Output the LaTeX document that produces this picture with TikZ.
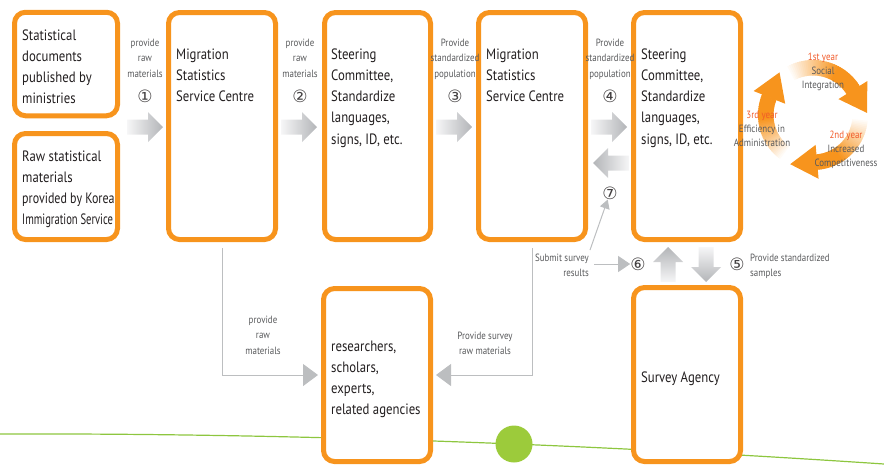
\documentclass[tikz,border=0pt]{standalone}
\usepackage{fontspec}
\setmainfont{PT Sans}[FakeStretch=0.85]
\newfontfamily\circfont{DejaVu Sans}
\usetikzlibrary{arrows.meta,calc}
\definecolor{org}{HTML}{F7941D}
\definecolor{garr}{HTML}{B3B5B8}
\definecolor{glight}{HTML}{F6F6F7}
\definecolor{txt}{HTML}{231F20}
\definecolor{stxt}{HTML}{58595B}
\definecolor{lgray}{HTML}{BCBEC0}
\definecolor{grn}{HTML}{8DC63F}
\definecolor{grn2}{HTML}{9CCB3B}
\definecolor{redt}{HTML}{F15A29}
\newcommand\tl[2][l]{\begin{tabular}[t]{@{}#1@{}}#2\end{tabular}}
\newcommand\harrR[1]{\shade[left color=glight, right color=garr] (#1) -- ++(-15,-15) -- ++(0,7.5) -- ++(-21,0) -- ++(0,15) -- ++(21,0) -- ++(0,7.5) -- cycle;}
\newcommand\harrL[1]{\shade[left color=garr, right color=glight] (#1) -- ++(15,-15) -- ++(0,7.5) -- ++(21,0) -- ++(0,15) -- ++(-21,0) -- ++(0,7.5) -- cycle;}
\newcommand\varrU[1]{\shade[top color=garr, bottom color=glight] (#1) -- ++(-15,15) -- ++(7.5,0) -- ++(0,20) -- ++(15,0) -- ++(0,-20) -- ++(7.5,0) -- cycle;}
\newcommand\varrD[1]{\shade[top color=glight, bottom color=garr] (#1) -- ++(-15,-15) -- ++(7.5,0) -- ++(0,-20) -- ++(15,0) -- ++(0,20) -- ++(7.5,0) -- cycle;}
\newcommand\ringbody[2]{%
  \foreach \i in {0,...,39} {
    \pgfmathsetmacro\aa{#1-(#1-(#2))*\i/40}
    \pgfmathsetmacro\bb{#1-(#1-(#2))*(\i+1.4)/40}
    \pgfmathsetmacro\pp{min(100,\i/40*100/0.65)}
    \fill[org!\pp!white] (\aa:39.5) -- (\aa:55) -- (\bb:55) -- (\bb:39.5) -- cycle;
  }}
\newcommand\ringhead[1]{%
  \fill[org] (#1:30) -- (#1:64) -- ($(#1:47)+({27*sin(#1)},{-27*cos(#1)})$) -- cycle;}
\begin{document}
\begin{tikzpicture}[x=1pt,y=-1pt,
  box/.style={draw=org, line width=5pt, rounded corners=11pt, fill=white, inner sep=0pt},
  btxt/.style={anchor=base west, font=\fontsize{15}{21.3}\selectfont, text=txt, inner sep=0pt},
  stx/.style={anchor=base, font=\fontsize{10.5}{15.5}\selectfont, text=stxt, inner sep=0pt},
  num/.style={font=\circfont\fontsize{17}{17}\selectfont, text=txt!85, inner sep=0pt},
  cyc/.style={anchor=base, font=\fontsize{10.5}{14.5}\selectfont, text=stxt, inner sep=0pt},
  thinline/.style={draw=lgray, line width=1pt},
  bigtri/.style={-{Triangle[width=22pt,length=15pt]}},
  midtri/.style={-{Triangle[width=16pt,length=12pt]}},
  smalltri/.style={-{Triangle[width=10pt,length=9pt]}}]
\useasboundingbox (0,0) rectangle (884,464);
% ground line
\draw[grn, line width=1.2pt] (0,434) .. controls (300,433) and (600,445) .. (884,464);
\node[circle, fill=grn2, minimum size=37pt, inner sep=0pt] (gc) at (514,444) {};
% boxes
\node[box, minimum width=103pt, minimum height=103.5pt] (A) at (66,64) {};
\node[box, minimum width=103pt, minimum height=106pt] (B) at (66,186.5) {};
\node[box, minimum width=107pt, minimum height=227pt] (C) at (222,126) {};
\node[box, minimum width=106pt, minimum height=227pt] (D) at (377.5,126) {};
\node[box, minimum width=107pt, minimum height=227pt] (E) at (532,126) {};
\node[box, minimum width=107pt, minimum height=227pt] (F) at (687,126) {};
\node[box, minimum width=107pt, minimum height=173pt] (G) at (377,375) {};
\node[box, minimum width=107pt, minimum height=174pt] (H) at (687,374.5) {};
% box texts
\node[btxt] (tA) at (22,40) {\tl{Statistical\\documents\\published by\\ministries}};
\node[btxt] (tB) at (22,161) {\tl{Raw statistical\\materials\\\scalebox{0.94}[1]{provided by Korea}\\\scalebox{0.83}[1]{Immigration Service}}};
\node[btxt] (tC) at (176,59) {\tl{Migration\\Statistics\\Service Centre}};
\node[btxt] (tD) at (331,59) {\tl{Steering\\Committee,\\Standardize\\languages,\\signs, ID, etc.}};
\node[btxt] (tE) at (486,59) {\tl{Migration\\Statistics\\Service Centre}};
\node[btxt] (tF) at (641,59) {\tl{Steering\\Committee,\\Standardize\\languages,\\signs, ID, etc.}};
\node[btxt] (tG) at (331,351) {\tl{researchers,\\scholars,\\experts,\\related agencies}};
\node[btxt] (tH) at (641,382) {Survey Agency};
% block arrows
\coordinate (p1) at ($(C.west)+(-3,1)$);
\coordinate (p2) at ($(D.west)+(-5,1)$);
\coordinate (p3) at ($(E.west)+(-4,1)$);
\coordinate (p4) at ($(F.west)+(-4,1)$);
\coordinate (p7) at ($(E.east)+(5,37)$);
\coordinate (p6) at ($(F.south)+(-19,5)$);
\coordinate (p5) at ($(H.north)+(19,-3)$);
\harrR{p1}
\harrR{p2}
\harrR{p3}
\harrR{p4}
\harrL{p7}
\varrU{p6}
\varrD{p5}
% labels over arrows
\node[stx] (l1) at (145,46) {\tl[c]{provide\\raw\\materials}};
\node[stx] (l2) at (300,46) {\tl[c]{provide\\raw\\materials}};
\node[stx] (l3) at (455,46) {\tl[c]{Provide\\standardized\\population}};
\node[stx] (l4) at (610,46) {\tl[c]{Provide\\standardized\\population}};
\node[num] (n1) at (145,96) {①};
\node[num] (n2) at (300,96) {②};
\node[num] (n3) at (455,96) {③};
\node[num] (n4) at (610,96) {④};
\node[num] (n7) at (610,193) {⑦};
\node[num] (n6) at (638,264) {⑥};
\node[num] (n5) at (737,264) {⑤};
\node[stx, anchor=base east] (lsub) at (589,261) {\tl[r]{Submit survey\\results}};
\node[stx, anchor=base west] (lsam) at (750,261) {\tl{Provide standardized\\samples}};
\node[stx] (lraw) at (263,323) {\tl[c]{provide\\raw\\materials}};
\node[stx] (lsrv) at (485,339) {\tl[c]{Provide survey\\raw materials}};
% thin connectors
\draw[thinline, bigtri, shorten <=6pt, shorten >=3pt] (C.south) |- (G.west);
\draw[thinline, bigtri, shorten <=6pt, shorten >=3pt] (E.south) |- (G.east);
\coordinate (s1) at (590,250);
\coordinate (s2) at (594,264);
\draw[thinline, smalltri] (s1) -- (n7);
\draw[thinline, midtri] (s2) -- (n6);
% cycle
\begin{scope}[shift={(813,115)}, yscale=-1]
  \ringbody{120}{32}
  \ringbody{-4}{-85}
  \ringbody{-125}{-202}
  \ringhead{32}
  \ringhead{-85}
  \ringhead{-202}
\end{scope}
\node[cyc, text=redt] (y1) at (823,60) {1st year};
\node[cyc] (y1t) at (823,74) {\tl[c]{Social\\Integration}};
\node[cyc, text=redt] (y2) at (846,138) {2nd year};
\node[cyc] (y2t) at (846,152) {\tl[c]{Increased\\Competitiveness}};
\node[cyc, text=redt] (y3) at (762,118) {3rd year};
\node[cyc] (y3t) at (762,132) {\tl[c]{Efficiency in\\Administration}};
\end{tikzpicture}
\end{document}
